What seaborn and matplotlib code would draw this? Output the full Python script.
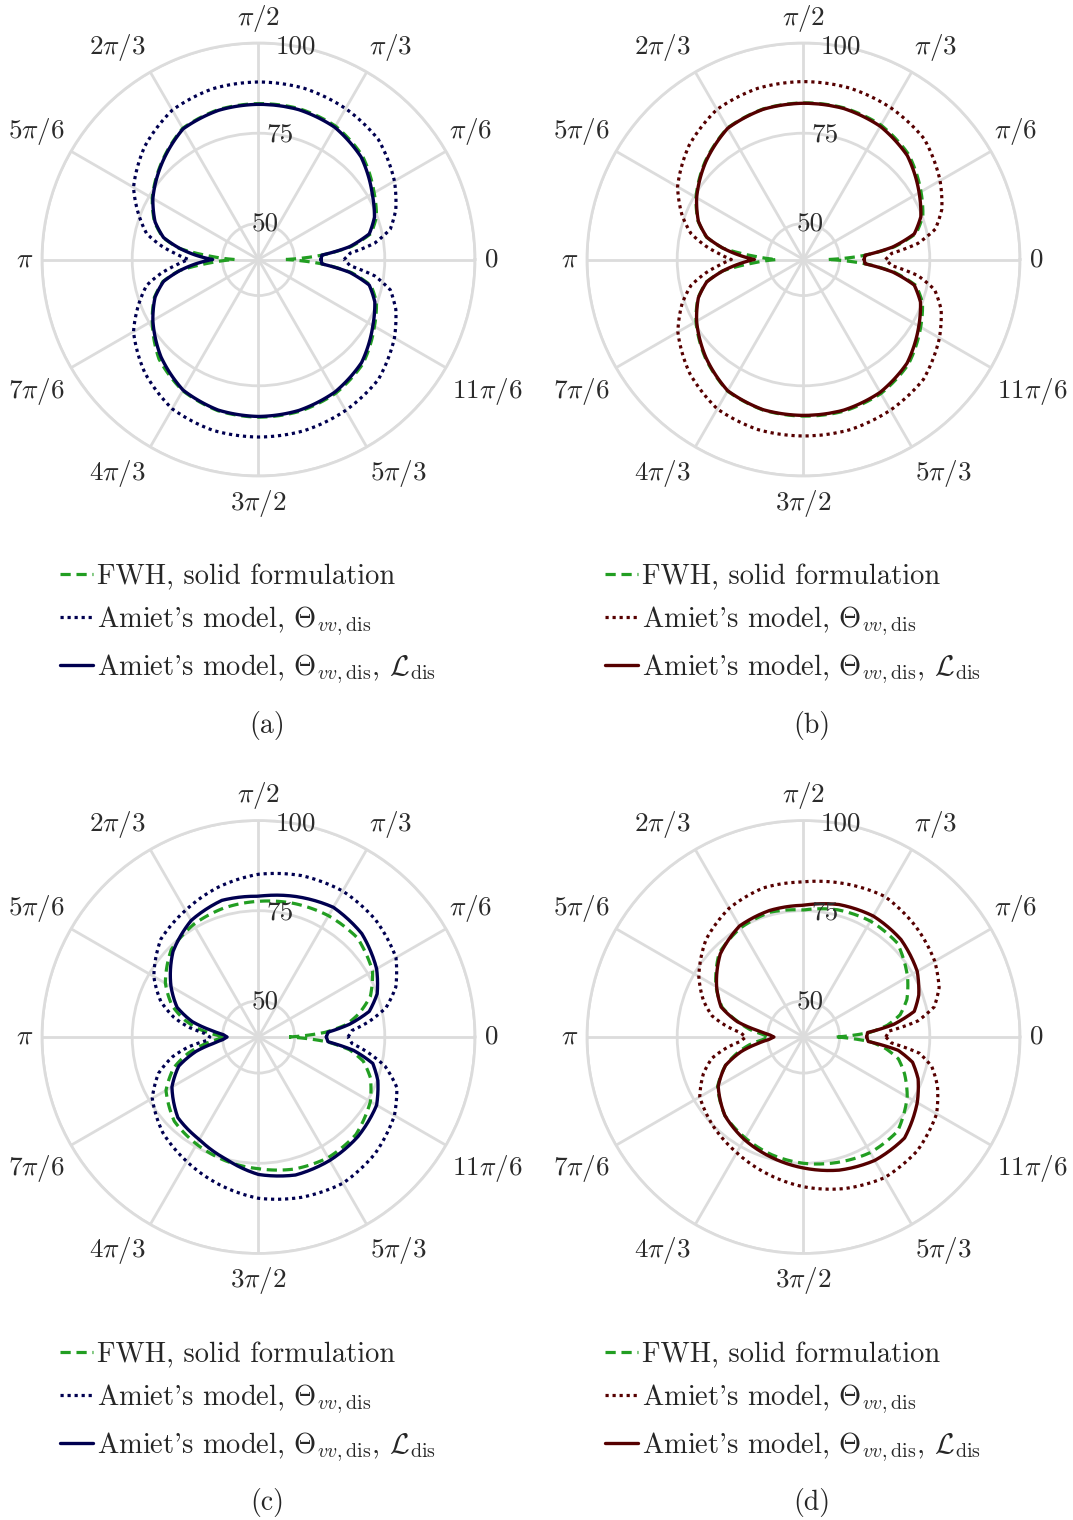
import numpy as np
import matplotlib
matplotlib.use("Agg")
import matplotlib.pyplot as plt
from matplotlib.transforms import ScaledTranslation
import seaborn as sns

# directivity angles (deg) shared by every curve
deg = [0, 4, 8, 13, 20, 30, 45, 60, 75, 90, 105, 120, 135, 150, 160, 167, 172, 176, 180,
       184, 188, 193, 200, 210, 225, 240, 255, 270, 285, 300, 315, 330, 340, 347, 352, 356, 360]

# panel (a)
fwh_a = [47.6, 57.8, 66.0, 72.0, 74.8, 77.0, 80.7, 82.7, 83.3, 83.2, 83.0, 82.0, 78.0, 74.0, 70.7, 67.2, 62.2, 53.5, 46.6,
         53.5, 62.2, 67.2, 70.7, 74.0, 79.0, 82.0, 83.4, 83.7, 83.6, 82.8, 80.9, 77.1, 74.8, 72.0, 66.0, 57.8, 47.6]
amiet_a = [63.7, 65.5, 72.5, 77.5, 80.5, 83.5, 87.0, 88.3, 89.1, 89.2, 89.0, 87.8, 84.5, 80.0, 75.2, 71.8, 67.2, 63.0, 59.4,
           63.0, 67.2, 71.8, 75.2, 80.0, 84.5, 87.8, 89.0, 89.2, 89.1, 88.3, 87.0, 83.5, 80.5, 77.5, 72.5, 65.5, 63.7]
amiet_l_a = [57.3, 57.6, 65.5, 71.5, 74.2, 76.4, 80.2, 82.3, 83.0, 83.0, 82.8, 81.8, 77.8, 73.8, 70.5, 67.0, 62.0, 57.5, 52.7,
             57.5, 62.0, 67.0, 70.5, 73.8, 78.2, 81.8, 83.2, 83.5, 83.3, 82.4, 80.4, 76.6, 74.3, 71.5, 65.5, 57.6, 57.3]

# panel (b)
fwh_b = [47.0, 57.3, 65.5, 72.0, 75.2, 77.6, 81.2, 83.0, 83.5, 83.4, 83.2, 82.1, 78.5, 74.4, 71.1, 67.6, 62.6, 54.0, 47.4,
         54.0, 62.6, 67.6, 71.1, 74.4, 78.5, 82.1, 83.2, 83.4, 83.5, 82.9, 81.1, 77.5, 75.1, 72.0, 65.5, 57.3, 47.0]
amiet_b = [62.7, 64.5, 72.0, 77.5, 80.8, 83.7, 87.3, 88.5, 89.2, 89.3, 89.1, 88.0, 84.8, 80.3, 75.8, 72.0, 67.5, 63.5, 60.0,
           63.5, 67.5, 72.0, 75.8, 80.2, 84.6, 87.8, 88.8, 88.9, 88.9, 88.2, 87.0, 83.5, 80.6, 77.3, 72.0, 64.5, 62.7]
amiet_l_b = [56.8, 57.1, 65.0, 71.5, 74.6, 77.0, 80.7, 82.6, 83.3, 83.3, 83.1, 82.0, 78.3, 74.2, 71.0, 67.5, 62.5, 58.0, 53.6,
             58.0, 62.5, 67.5, 71.0, 74.2, 78.3, 82.0, 83.1, 83.2, 83.2, 82.5, 80.6, 76.9, 74.5, 71.5, 65.0, 57.1, 56.8]

# panel (c)
fwh_c = [48.5, 58.5, 64.5, 68.5, 73.0, 76.5, 78.8, 78.8, 78.3, 77.6, 77.0, 76.0, 74.2, 69.8, 65.5, 61.0, 57.0, 53.0, 49.0,
         52.0, 55.5, 60.0, 65.0, 69.6, 73.0, 74.3, 75.5, 76.5, 77.9, 78.6, 78.2, 75.8, 73.0, 69.8, 65.5, 59.0, 48.5]
amiet_c = [64.8, 66.0, 71.0, 76.3, 80.5, 84.0, 85.9, 86.7, 86.3, 85.1, 83.0, 80.5, 78.3, 73.5, 68.8, 64.0, 59.5, 55.0, 53.5,
           54.5, 59.5, 64.5, 69.5, 74.0, 77.5, 79.8, 82.3, 84.7, 86.0, 86.8, 85.7, 83.5, 80.8, 76.0, 70.6, 66.0, 64.8]
amiet_l_c = [58.8, 59.3, 65.5, 71.5, 75.0, 77.8, 80.5, 81.5, 80.3, 79.0, 79.2, 77.3, 73.5, 68.0, 64.0, 58.8, 53.2, 49.8, 48.7,
             49.8, 52.5, 57.8, 63.5, 67.7, 71.6, 72.8, 75.0, 78.1, 79.6, 79.5, 79.0, 77.8, 75.2, 72.5, 66.6, 59.3, 58.8]

# panel (d)
fwh_d = [49.2, 58.5, 63.5, 67.5, 70.5, 73.3, 76.8, 77.1, 76.5, 75.2, 75.8, 74.9, 73.0, 68.0, 64.0, 58.5, 55.0, 51.5, 49.5,
         51.5, 55.0, 58.5, 63.0, 67.5, 70.8, 72.3, 73.8, 75.0, 76.0, 77.0, 76.9, 73.2, 69.8, 67.0, 63.0, 58.5, 49.2]
amiet_d = [62.8, 63.8, 72.0, 77.2, 80.0, 82.0, 83.7, 85.0, 84.0, 83.0, 82.8, 81.2, 78.2, 73.5, 69.5, 66.0, 61.5, 57.5, 56.0,
           57.5, 61.5, 66.0, 69.5, 73.2, 75.2, 77.0, 79.2, 81.5, 83.5, 85.0, 84.6, 82.6, 79.5, 76.5, 72.5, 64.5, 62.8]
amiet_l_d = [57.5, 57.8, 65.3, 71.5, 74.0, 76.4, 78.2, 78.7, 78.0, 76.5, 76.3, 75.5, 72.6, 67.8, 64.3, 58.8, 52.8, 49.5, 48.2,
             49.5, 52.7, 57.6, 63.0, 67.3, 70.8, 72.8, 74.5, 76.3, 78.2, 79.5, 79.6, 76.4, 73.8, 71.0, 66.5, 58.0, 57.5]

theta_ticks = [0, 30, 60, 90, 120, 150, 180, 210, 240, 270, 300, 330]
theta_labels = ["0", r"$\pi/6$", r"$\pi/3$", r"$\pi/2$", r"$2\pi/3$", r"$5\pi/6$", r"$\pi$",
                r"$7\pi/6$", r"$4\pi/3$", r"$3\pi/2$", r"$5\pi/3$", r"$11\pi/6$"]
r_ticks = [50, 75, 100]
labels = ["FWH, solid formulation",
          r"Amiet's model, $\Theta_{vv,\mathrm{dis}}$",
          r"Amiet's model, $\Theta_{vv,\mathrm{dis}}$, $\mathcal{L}_{\mathrm{dis}}$"]

# where each angle label sits, in px from the pole (pgfplots-style anchoring)
label_offsets = [(233, 0), (212, 128), (132, 212), (0, 241), (-141, 212), (-222, 128),
                 (-234, 0), (-222, -132), (-141, -214), (0, -244), (140, -214), (229, -132)]

sns.set_theme(style="white")
plt.rcParams["font.family"] = ["cmr10", "DejaVu Serif"]
plt.rcParams["mathtext.fontset"] = "cm"
plt.rcParams["axes.formatter.use_mathtext"] = True

green = "#229e22"
navy = "#000050"
maroon = "#560000"
grid_c = "#dcdcdc"
txt_c = "#2b2b2b"

theta = np.deg2rad(deg)

fig = plt.figure(figsize=(10.73, 15.2), dpi=100)
w, h = 0.40354, 0.28487
panels = [
    ("(a)", [0.03914, 0.68684, w, h], fwh_a, amiet_a, amiet_l_a, navy, (0.0559, 0.6290), (0.2488, 0.5230)),
    ("(b)", [0.54706, 0.68684, w, h], fwh_b, amiet_b, amiet_l_b, maroon, (0.5638, 0.6290), (0.7568, 0.5230)),
    ("(c)", [0.03914, 0.17533, w, h], fwh_c, amiet_c, amiet_l_c, navy, (0.0559, 0.1172), (0.2488, 0.0118)),
    ("(d)", [0.54706, 0.17533, w, h], fwh_d, amiet_d, amiet_l_d, maroon, (0.5638, 0.1172), (0.7568, 0.0118)),
]

for tag, pos, fwh, amiet, amiet_l, col, leg_xy, cap_xy in panels:
    ax = fig.add_axes(pos, projection="polar")
    sns.lineplot(x=theta, y=fwh, ax=ax, sort=False, estimator=None, color=green,
                 linewidth=2.3, linestyle=(0, (3.2, 1.8)), label=labels[0], legend=False)
    sns.lineplot(x=theta, y=amiet, ax=ax, sort=False, estimator=None, color=col,
                 linewidth=2.3, linestyle=(0, (1, 1.2)), label=labels[1], legend=False)
    sns.lineplot(x=theta, y=amiet_l, ax=ax, sort=False, estimator=None, color=col,
                 linewidth=2.4, linestyle="-", label=labels[2], legend=False)
    # let the polar transform draw arcs between the samples instead of chords
    for ln in ax.get_lines():
        ln.get_path()._interpolation_steps = 24

    ax.set_ylim(40, 100)
    ax.set_yticks(r_ticks)
    ax.set_yticklabels([])
    ax.set_xticks(np.deg2rad(theta_ticks))
    ax.set_xticklabels([])
    ax.tick_params(axis="x", pad=0)
    ax.grid(True, color=grid_c, linewidth=2)
    ax.spines["polar"].set_color(grid_c)
    ax.spines["polar"].set_linewidth(2)
    ax.set_xlabel("")
    ax.set_ylabel("")
    for v in r_ticks:
        ax.text(np.deg2rad(80), v, str(v), ha="center", va="center",
                fontsize=19.5, color=txt_c)
    for (dx, dy), lab in zip(label_offsets, theta_labels):
        tr = ax.transAxes + ScaledTranslation(dx / fig.dpi, dy / fig.dpi, fig.dpi_scale_trans)
        ax.text(0.5, 0.5, lab, transform=tr, ha="center", va="center", fontsize=19.5,
                color=txt_c, clip_on=False)

    handles = ax.get_lines()[:3]
    fig.legend(handles=handles, labels=labels, loc="upper left", bbox_to_anchor=leg_xy,
               frameon=False, fontsize=20.5, handlelength=1.15, handletextpad=0.15,
               labelspacing=0.5, borderpad=0, borderaxespad=0)
    fig.text(cap_xy[0], cap_xy[1], tag, ha="center", va="center", fontsize=20)

fig.savefig("out.png", dpi=100)
